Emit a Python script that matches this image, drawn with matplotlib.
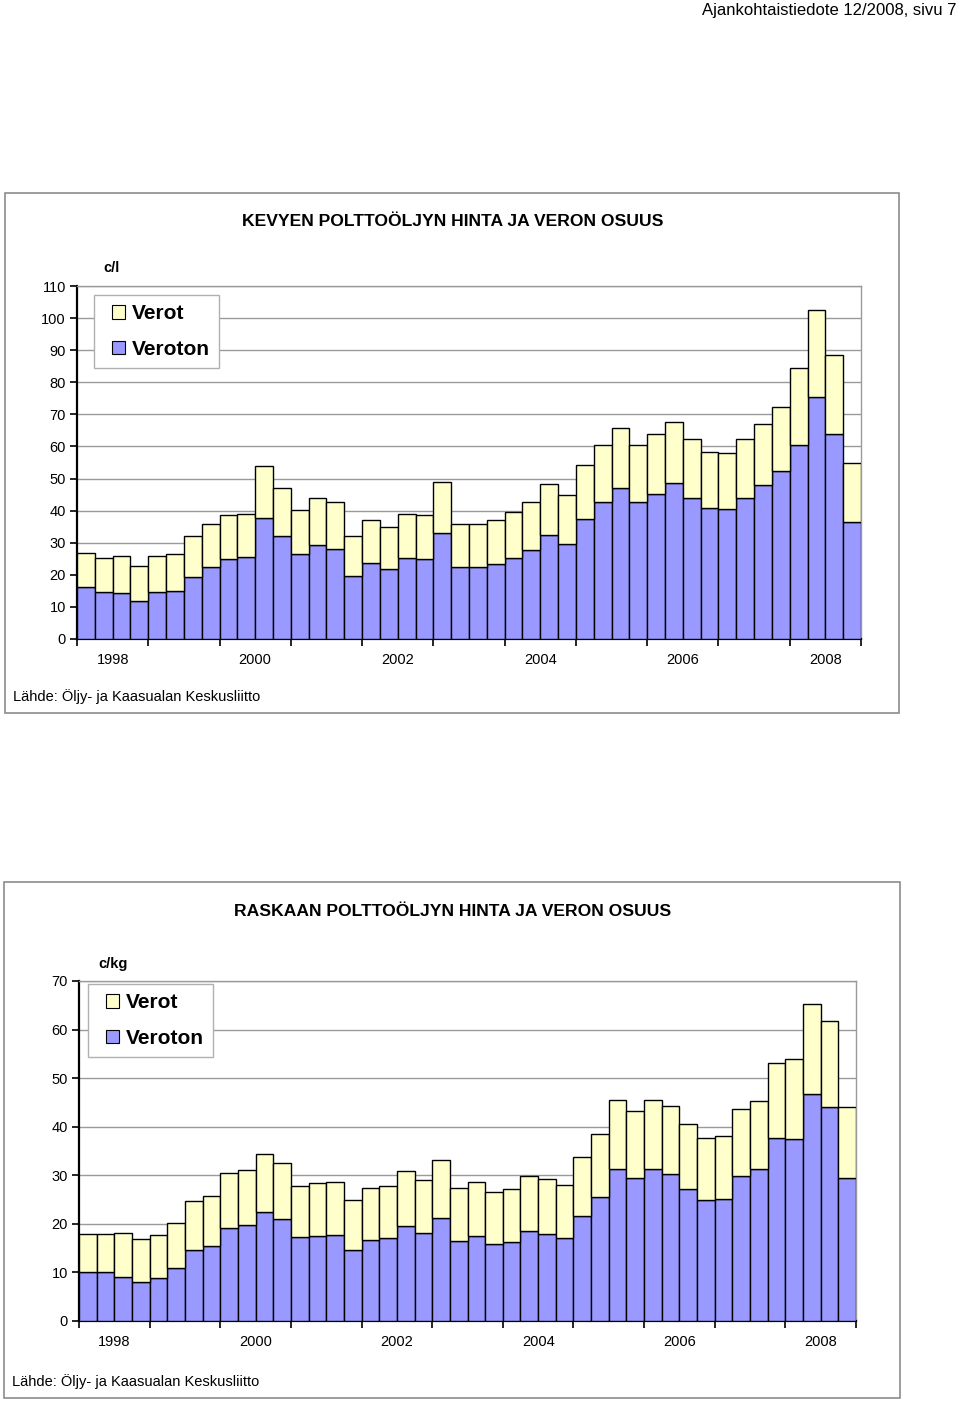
import matplotlib.pyplot as plt
from matplotlib.patches import Rectangle, Patch
from matplotlib.legend_handler import HandlerPatch

# Neljännesvuosittaiset hinnat 1998-2008 (44 pylvästä)
years = list(range(1998, 2009))

kevyt_veroton = [16.1, 14.7, 14.4, 11.9, 14.5, 15.0, 19.4, 22.5,
                 24.9, 25.4, 37.6, 32.0, 26.4, 29.3, 28.2, 19.7,
                 23.8, 21.7, 25.3, 25.0, 33.1, 22.5, 22.4, 23.3,
                 25.3, 27.8, 32.5, 29.7, 37.4, 42.6, 46.9, 42.6,
                 45.2, 48.5, 44.0, 40.8, 40.6, 44.0, 47.9, 52.2,
                 60.5, 75.3, 64.0, 36.4]
kevyt_yht = [26.8, 25.1, 25.8, 22.8, 25.8, 26.5, 32.0, 35.7,
             38.5, 39.1, 54.0, 47.1, 40.3, 43.9, 42.8, 32.2,
             37.2, 34.8, 39.0, 38.5, 49.0, 35.9, 35.9, 37.0,
             39.5, 42.6, 48.3, 45.0, 54.3, 60.6, 65.9, 60.6,
             63.8, 67.7, 62.2, 58.3, 58.0, 62.4, 67.1, 72.2,
             84.3, 102.4, 88.6, 55.0]

raskas_veroton = [10.1, 10.1, 9.1, 8.0, 8.9, 10.9, 14.6, 15.5,
                  19.2, 19.8, 22.5, 21.1, 17.2, 17.6, 17.8, 14.7,
                  16.7, 17.1, 19.6, 18.1, 21.2, 16.5, 17.5, 15.8,
                  16.3, 18.5, 18.0, 17.0, 21.6, 25.5, 31.3, 29.5,
                  31.3, 30.2, 27.2, 24.9, 25.2, 29.9, 31.3, 37.6,
                  37.5, 46.8, 44.0, 29.4]
raskas_yht = [18.0, 18.0, 18.1, 16.8, 17.7, 20.2, 24.8, 25.8,
              30.4, 31.1, 34.3, 32.6, 27.8, 28.4, 28.6, 24.9,
              27.3, 27.8, 30.8, 29.1, 33.1, 27.4, 28.6, 26.6,
              27.1, 29.9, 29.3, 28.0, 33.8, 38.4, 45.4, 43.3,
              45.4, 44.2, 40.5, 37.6, 38.0, 43.6, 45.3, 53.1,
              53.9, 65.3, 61.7, 44.0]

C_VEROT = '#FFFFCC'
C_VEROTON = '#9999FF'
W, H = 960, 1402

fig = plt.figure(figsize=(W / 100, H / 100), dpi=100)


def fx(px):
    return px / W


def fy(py):
    return 1 - py / H


def square(legend, orig_handle, xdescent, ydescent, width, height, fontsize):
    # pieni neliö kahvan oikeaan reunaan
    return Rectangle((-xdescent + width - height, -ydescent), height, height)


def chart(box, axbox, title, title_y, unit, unit_xy, leg_xy, lahde_y,
          veroton, yht, ymax, ystep):
    # ulkokehys
    x0, y0, x1, y1 = box
    fig.patches.append(Rectangle((fx(x0), fy(y1)), fx(x1 - x0), (y1 - y0) / H,
                                 transform=fig.transFigure, fill=False,
                                 edgecolor='#8c8c8c', lw=1.2))
    l, t, r, b = axbox
    ax = fig.add_axes([fx(l), fy(b), fx(r - l), (b - t) / H])
    n = len(veroton)
    x = list(range(n))
    verot = [a - v for a, v in zip(yht, veroton)]
    ax.bar(x, veroton, width=1, align='edge', color=C_VEROTON,
           edgecolor='black', lw=1, zorder=3)
    ax.bar(x, verot, bottom=veroton, width=1, align='edge', color=C_VEROT,
           edgecolor='black', lw=1, zorder=3)
    ax.set_xlim(0, n)
    ax.set_ylim(0, ymax)
    ax.set_yticks(range(0, ymax + 1, ystep))
    ax.yaxis.grid(True, color='#9a9a9a', lw=1, zorder=0)
    ax.set_axisbelow(True)
    ax.set_xticks(range(0, n + 1, 4))
    ax.set_xticklabels([])
    ax.set_xticks([4 * i + 2 for i in range(0, len(years), 2)], minor=True)
    ax.set_xticklabels([str(y) for y in years[::2]], minor=True)
    ax.tick_params(axis='x', which='major', direction='out', length=5,
                   width=1.2, color='black')
    ax.tick_params(axis='x', which='minor', length=0, pad=10, labelsize=10.5)
    ax.tick_params(axis='y', direction='out', length=5, width=1.2,
                   labelsize=10.5, pad=3)
    for s in ('top', 'right'):
        ax.spines[s].set_color('#9a9a9a')
        ax.spines[s].set_linewidth(1)
    for s in ('left', 'bottom'):
        ax.spines[s].set_color('black')
        ax.spines[s].set_linewidth(1.6)
    for lab in ax.get_xticklabels(minor=True) + ax.get_yticklabels():
        lab.set_family('Liberation Sans')

    fig.text(fx((x0 + x1) / 2 + 1), fy(title_y), title, ha='center',
             va='center', fontsize=12.6, fontweight='bold',
             family='Liberation Sans')
    fig.text(fx(unit_xy[0]), fy(unit_xy[1]), unit, ha='left', va='center',
             fontsize=10.5, fontweight='bold', family='Liberation Sans')
    fig.text(fx(x0 + 8), fy(lahde_y), 'Lähde: Öljy- ja Kaasualan Keskusliitto',
             ha='left', va='center', fontsize=10.5, family='Liberation Sans')

    handles = [Patch(facecolor=C_VEROT, edgecolor='black', lw=0.8),
               Patch(facecolor=C_VEROTON, edgecolor='black', lw=0.8)]
    leg = ax.legend(handles, ['Verot', 'Veroton'], loc='upper left',
                    bbox_to_anchor=(fx(leg_xy[0]), fy(leg_xy[1])),
                    bbox_transform=fig.transFigure, fancybox=False,
                    framealpha=1, edgecolor='#b0b0b0', handlelength=1.05,
                    handleheight=0.6, handletextpad=0.3, borderpad=0.45,
                    labelspacing=0.8, borderaxespad=0,
                    handler_map={Patch: HandlerPatch(patch_func=square)},
                    prop={'family': 'Liberation Sans', 'weight': 'bold',
                          'size': 15})
    leg.get_frame().set_linewidth(1)
    leg.set_zorder(5)
    return ax


chart((5, 193, 899, 713), (77, 286, 861, 639),
      'KEVYEN POLTTOÖLJYN HINTA JA VERON OSUUS', 222, 'c/l', (103, 268),
      (94, 295), 697, kevyt_veroton, kevyt_yht, 110, 10)

chart((4, 882, 900, 1398), (79, 981, 856, 1321),
      'RASKAAN POLTTOÖLJYN HINTA JA VERON OSUUS', 911, 'c/kg', (98, 964),
      (88, 984), 1382, raskas_veroton, raskas_yht, 70, 10)

fig.text(fx(957), fy(10), 'Ajankohtaistiedote 12/2008, sivu 7', ha='right',
         va='center', fontsize=12,
         family=['Liberation Sans Narrow', 'Liberation Sans'])

fig.savefig('out.png', dpi=100)
